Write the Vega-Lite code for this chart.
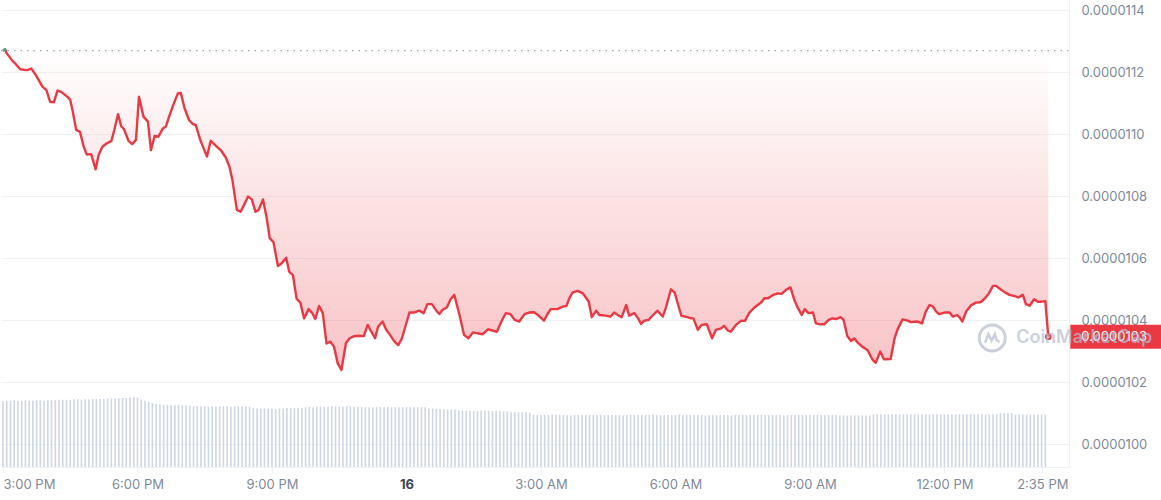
{
  "$schema": "https://vega.github.io/schema/vega-lite/v6.json",
  "width": 1068,
  "height": 467,
  "padding": 0,
  "background": "white",
  "config": {"view": {"stroke": null}, "font": "Inter"},
  "datasets": {
    "price": [
      {"t":"2024-05-15T15:00","p":0.00001127},{"t":"2024-05-15T15:03","p":0.000011274},{"t":"2024-05-15T15:05","p":0.000011261},{"t":"2024-05-15T15:13","p":0.000011236},{"t":"2024-05-15T15:17","p":0.000011227},{"t":"2024-05-15T15:23","p":0.00001121},{"t":"2024-05-15T15:32","p":0.000011207},{"t":"2024-05-15T15:38","p":0.000011212},{"t":"2024-05-15T15:44","p":0.000011191},{"t":"2024-05-15T15:53","p":0.000011153},{"t":"2024-05-15T15:58","p":0.000011143},
      {"t":"2024-05-15T16:03","p":0.000011105},{"t":"2024-05-15T16:08","p":0.000011103},{"t":"2024-05-15T16:13","p":0.000011141},{"t":"2024-05-15T16:18","p":0.000011137},{"t":"2024-05-15T16:27","p":0.000011119},{"t":"2024-05-15T16:30","p":0.000011111},{"t":"2024-05-15T16:33","p":0.000011078},{"t":"2024-05-15T16:38","p":0.000011014},{"t":"2024-05-15T16:43","p":0.000011008},{"t":"2024-05-15T16:48","p":0.00001096},{"t":"2024-05-15T16:52","p":0.000010935},{"t":"2024-05-15T16:58","p":0.000010936},
      {"t":"2024-05-15T17:04","p":0.000010887},{"t":"2024-05-15T17:08","p":0.000010933},{"t":"2024-05-15T17:13","p":0.00001096},{"t":"2024-05-15T17:19","p":0.000010971},{"t":"2024-05-15T17:25","p":0.000010978},{"t":"2024-05-15T17:29","p":0.000011014},{"t":"2024-05-15T17:34","p":0.000011065},{"t":"2024-05-15T17:38","p":0.000011027},{"t":"2024-05-15T17:42","p":0.000011016},{"t":"2024-05-15T17:48","p":0.000010979},{"t":"2024-05-15T17:53","p":0.000010968},{"t":"2024-05-15T17:58","p":0.000010982},
      {"t":"2024-05-15T18:02","p":0.000011121},{"t":"2024-05-15T18:08","p":0.000011057},{"t":"2024-05-15T18:14","p":0.000011041},{"t":"2024-05-15T18:18","p":0.000010949},{"t":"2024-05-15T18:23","p":0.000010995},{"t":"2024-05-15T18:28","p":0.000010992},{"t":"2024-05-15T18:34","p":0.000011019},{"t":"2024-05-15T18:38","p":0.000011025},{"t":"2024-05-15T18:43","p":0.000011062},{"t":"2024-05-15T18:48","p":0.000011095},{"t":"2024-05-15T18:54","p":0.000011132},{"t":"2024-05-15T18:58","p":0.000011133},
      {"t":"2024-05-15T19:03","p":0.000011084},{"t":"2024-05-15T19:09","p":0.000011046},{"t":"2024-05-15T19:14","p":0.000011033},{"t":"2024-05-15T19:18","p":0.00001103},{"t":"2024-05-15T19:24","p":0.000010982},{"t":"2024-05-15T19:33","p":0.000010928},{"t":"2024-05-15T19:38","p":0.000010979},{"t":"2024-05-15T19:45","p":0.000010963},{"t":"2024-05-15T19:52","p":0.000010947},{"t":"2024-05-15T19:58","p":0.000010926},
      {"t":"2024-05-15T20:03","p":0.000010896},{"t":"2024-05-15T20:07","p":0.000010853},{"t":"2024-05-15T20:13","p":0.000010756},{"t":"2024-05-15T20:18","p":0.00001075},{"t":"2024-05-15T20:23","p":0.000010774},{"t":"2024-05-15T20:28","p":0.000010799},{"t":"2024-05-15T20:33","p":0.00001079},{"t":"2024-05-15T20:38","p":0.00001075},{"t":"2024-05-15T20:42","p":0.000010756},{"t":"2024-05-15T20:48","p":0.00001079},{"t":"2024-05-15T20:53","p":0.000010729},{"t":"2024-05-15T20:57","p":0.000010665},
      {"t":"2024-05-15T21:02","p":0.000010652},{"t":"2024-05-15T21:08","p":0.000010575},{"t":"2024-05-15T21:13","p":0.000010584},{"t":"2024-05-15T21:19","p":0.000010602},{"t":"2024-05-15T21:23","p":0.000010557},{"t":"2024-05-15T21:28","p":0.000010546},{"t":"2024-05-15T21:33","p":0.000010469},{"t":"2024-05-15T21:38","p":0.000010457},{"t":"2024-05-15T21:43","p":0.000010406},{"t":"2024-05-15T21:49","p":0.000010436},{"t":"2024-05-15T21:54","p":0.000010423},{"t":"2024-05-15T21:58","p":0.000010404},
      {"t":"2024-05-15T22:03","p":0.000010446},{"t":"2024-05-15T22:08","p":0.000010423},{"t":"2024-05-15T22:13","p":0.000010325},{"t":"2024-05-15T22:18","p":0.000010331},{"t":"2024-05-15T22:23","p":0.000010315},{"t":"2024-05-15T22:28","p":0.000010261},{"t":"2024-05-15T22:33","p":0.00001024},{"t":"2024-05-15T22:39","p":0.000010327},{"t":"2024-05-15T22:44","p":0.000010342},{"t":"2024-05-15T22:50","p":0.000010349},{"t":"2024-05-15T22:57","p":0.00001035},
      {"t":"2024-05-15T23:03","p":0.000010349},{"t":"2024-05-15T23:08","p":0.000010385},{"t":"2024-05-15T23:13","p":0.000010363},{"t":"2024-05-15T23:18","p":0.000010342},{"t":"2024-05-15T23:22","p":0.000010379},{"t":"2024-05-15T23:28","p":0.000010396},{"t":"2024-05-15T23:33","p":0.000010369},{"t":"2024-05-15T23:38","p":0.000010353},{"t":"2024-05-15T23:44","p":0.000010331},{"t":"2024-05-15T23:49","p":0.00001032},{"t":"2024-05-15T23:54","p":0.000010342},
      {"t":"2024-05-16T00:04","p":0.000010425},{"t":"2024-05-16T00:10","p":0.000010425},{"t":"2024-05-16T00:17","p":0.000010431},{"t":"2024-05-16T00:23","p":0.000010423},{"t":"2024-05-16T00:28","p":0.000010452},{"t":"2024-05-16T00:34","p":0.000010452},{"t":"2024-05-16T00:40","p":0.000010431},{"t":"2024-05-16T00:44","p":0.00001042},{"t":"2024-05-16T00:48","p":0.000010433},{"t":"2024-05-16T00:54","p":0.000010441},{"t":"2024-05-16T00:59","p":0.000010468},
      {"t":"2024-05-16T01:04","p":0.000010482},{"t":"2024-05-16T01:11","p":0.000010417},{"t":"2024-05-16T01:17","p":0.000010353},{"t":"2024-05-16T01:23","p":0.000010342},{"t":"2024-05-16T01:29","p":0.000010361},{"t":"2024-05-16T01:35","p":0.000010358},{"t":"2024-05-16T01:42","p":0.000010355},{"t":"2024-05-16T01:49","p":0.000010371},{"t":"2024-05-16T01:55","p":0.000010367},
      {"t":"2024-05-16T02:01","p":0.000010363},{"t":"2024-05-16T02:07","p":0.000010396},{"t":"2024-05-16T02:13","p":0.000010423},{"t":"2024-05-16T02:19","p":0.00001042},{"t":"2024-05-16T02:25","p":0.000010401},{"t":"2024-05-16T02:31","p":0.000010396},{"t":"2024-05-16T02:38","p":0.00001042},{"t":"2024-05-16T02:44","p":0.000010425},{"t":"2024-05-16T02:51","p":0.000010426},{"t":"2024-05-16T02:56","p":0.000010417},
      {"t":"2024-05-16T03:04","p":0.000010399},{"t":"2024-05-16T03:08","p":0.000010417},{"t":"2024-05-16T03:13","p":0.000010436},{"t":"2024-05-16T03:22","p":0.000010436},{"t":"2024-05-16T03:29","p":0.000010444},{"t":"2024-05-16T03:34","p":0.000010446},{"t":"2024-05-16T03:38","p":0.000010471},{"t":"2024-05-16T03:42","p":0.000010489},{"t":"2024-05-16T03:49","p":0.000010495},{"t":"2024-05-16T03:56","p":0.000010487},
      {"t":"2024-05-16T04:04","p":0.00001046},{"t":"2024-05-16T04:08","p":0.00001041},{"t":"2024-05-16T04:14","p":0.000010431},{"t":"2024-05-16T04:18","p":0.000010417},{"t":"2024-05-16T04:27","p":0.000010415},{"t":"2024-05-16T04:33","p":0.000010412},{"t":"2024-05-16T04:38","p":0.000010425},{"t":"2024-05-16T04:44","p":0.000010415},{"t":"2024-05-16T04:48","p":0.00001041},{"t":"2024-05-16T04:54","p":0.000010449},{"t":"2024-05-16T04:58","p":0.000010415},
      {"t":"2024-05-16T05:05","p":0.000010423},{"t":"2024-05-16T05:10","p":0.000010406},{"t":"2024-05-16T05:14","p":0.000010388},{"t":"2024-05-16T05:18","p":0.000010399},{"t":"2024-05-16T05:24","p":0.000010401},{"t":"2024-05-16T05:30","p":0.000010417},{"t":"2024-05-16T05:36","p":0.000010431},{"t":"2024-05-16T05:43","p":0.000010412},{"t":"2024-05-16T05:47","p":0.000010439},{"t":"2024-05-16T05:54","p":0.0000105},{"t":"2024-05-16T05:59","p":0.000010489},
      {"t":"2024-05-16T06:03","p":0.000010455},{"t":"2024-05-16T06:08","p":0.000010414},{"t":"2024-05-16T06:16","p":0.00001041},{"t":"2024-05-16T06:21","p":0.000010406},{"t":"2024-05-16T06:24","p":0.000010406},{"t":"2024-05-16T06:30","p":0.000010369},{"t":"2024-05-16T06:35","p":0.000010385},{"t":"2024-05-16T06:42","p":0.000010387},{"t":"2024-05-16T06:49","p":0.000010342},{"t":"2024-05-16T06:54","p":0.000010369},
      {"t":"2024-05-16T07:01","p":0.000010374},{"t":"2024-05-16T07:05","p":0.000010382},{"t":"2024-05-16T07:10","p":0.000010367},{"t":"2024-05-16T07:14","p":0.000010363},{"t":"2024-05-16T07:21","p":0.000010385},{"t":"2024-05-16T07:28","p":0.000010399},{"t":"2024-05-16T07:33","p":0.000010398},{"t":"2024-05-16T07:39","p":0.000010425},{"t":"2024-05-16T07:46","p":0.000010442},{"t":"2024-05-16T07:55","p":0.000010458},{"t":"2024-05-16T07:59","p":0.000010471},
      {"t":"2024-05-16T08:04","p":0.000010471},{"t":"2024-05-16T08:10","p":0.000010481},{"t":"2024-05-16T08:17","p":0.000010487},{"t":"2024-05-16T08:22","p":0.000010485},{"t":"2024-05-16T08:28","p":0.000010498},{"t":"2024-05-16T08:34","p":0.000010506},{"t":"2024-05-16T08:39","p":0.000010466},{"t":"2024-05-16T08:44","p":0.000010439},{"t":"2024-05-16T08:49","p":0.000010417},{"t":"2024-05-16T08:53","p":0.000010436},{"t":"2024-05-16T08:58","p":0.000010423},
      {"t":"2024-05-16T09:04","p":0.000010425},{"t":"2024-05-16T09:08","p":0.00001039},{"t":"2024-05-16T09:14","p":0.000010387},{"t":"2024-05-16T09:19","p":0.000010387},{"t":"2024-05-16T09:25","p":0.000010401},{"t":"2024-05-16T09:30","p":0.000010406},{"t":"2024-05-16T09:35","p":0.000010404},{"t":"2024-05-16T09:41","p":0.00001041},{"t":"2024-05-16T09:45","p":0.000010401},{"t":"2024-05-16T09:50","p":0.000010349},{"t":"2024-05-16T09:55","p":0.000010333},{"t":"2024-05-16T09:59","p":0.000010342},
      {"t":"2024-05-16T10:04","p":0.000010328},{"t":"2024-05-16T10:11","p":0.000010313},{"t":"2024-05-16T10:17","p":0.000010304},{"t":"2024-05-16T10:24","p":0.000010272},{"t":"2024-05-16T10:28","p":0.000010263},{"t":"2024-05-16T10:34","p":0.000010299},{"t":"2024-05-16T10:39","p":0.000010274},{"t":"2024-05-16T10:48","p":0.000010275},{"t":"2024-05-16T10:53","p":0.000010339},{"t":"2024-05-16T10:57","p":0.000010369},
      {"t":"2024-05-16T11:04","p":0.000010403},{"t":"2024-05-16T11:11","p":0.000010399},{"t":"2024-05-16T11:15","p":0.000010394},{"t":"2024-05-16T11:24","p":0.000010396},{"t":"2024-05-16T11:30","p":0.00001039},{"t":"2024-05-16T11:35","p":0.000010428},{"t":"2024-05-16T11:40","p":0.000010449},{"t":"2024-05-16T11:44","p":0.000010446},{"t":"2024-05-16T11:49","p":0.000010428},{"t":"2024-05-16T11:53","p":0.00001042},
      {"t":"2024-05-16T12:00","p":0.000010425},{"t":"2024-05-16T12:07","p":0.000010425},{"t":"2024-05-16T12:11","p":0.000010412},{"t":"2024-05-16T12:17","p":0.000010417},{"t":"2024-05-16T12:20","p":0.00001041},{"t":"2024-05-16T12:24","p":0.000010396},{"t":"2024-05-16T12:29","p":0.000010428},{"t":"2024-05-16T12:36","p":0.000010449},{"t":"2024-05-16T12:42","p":0.000010457},{"t":"2024-05-16T12:48","p":0.000010458},{"t":"2024-05-16T12:53","p":0.000010468},{"t":"2024-05-16T12:59","p":0.000010485},
      {"t":"2024-05-16T13:05","p":0.000010511},{"t":"2024-05-16T13:09","p":0.000010511},{"t":"2024-05-16T13:15","p":0.0000105},{"t":"2024-05-16T13:21","p":0.00001049},{"t":"2024-05-16T13:27","p":0.000010482},{"t":"2024-05-16T13:34","p":0.000010478},{"t":"2024-05-16T13:39","p":0.000010474},{"t":"2024-05-16T13:45","p":0.000010482},{"t":"2024-05-16T13:49","p":0.000010452},{"t":"2024-05-16T13:54","p":0.000010447},
      {"t":"2024-05-16T14:00","p":0.000010468},{"t":"2024-05-16T14:05","p":0.00001046},{"t":"2024-05-16T14:10","p":0.00001046},{"t":"2024-05-16T14:15","p":0.000010462},{"t":"2024-05-16T14:19","p":0.000010347}
    ],
    "vol": [
      {"t":"2024-05-15T15:00","v":1.43},{"t":"2024-05-15T15:05","v":1.44},{"t":"2024-05-15T15:10","v":1.44},{"t":"2024-05-15T15:15","v":1.45},{"t":"2024-05-15T15:20","v":1.44},{"t":"2024-05-15T15:25","v":1.44},{"t":"2024-05-15T15:30","v":1.45},{"t":"2024-05-15T15:35","v":1.44},{"t":"2024-05-15T15:40","v":1.44},{"t":"2024-05-15T15:45","v":1.45},{"t":"2024-05-15T15:50","v":1.45},{"t":"2024-05-15T15:55","v":1.44},
      {"t":"2024-05-15T16:00","v":1.45},{"t":"2024-05-15T16:05","v":1.45},{"t":"2024-05-15T16:10","v":1.45},{"t":"2024-05-15T16:15","v":1.46},{"t":"2024-05-15T16:20","v":1.46},{"t":"2024-05-15T16:25","v":1.46},{"t":"2024-05-15T16:30","v":1.46},{"t":"2024-05-15T16:35","v":1.47},{"t":"2024-05-15T16:40","v":1.47},{"t":"2024-05-15T16:45","v":1.46},{"t":"2024-05-15T16:50","v":1.47},{"t":"2024-05-15T16:55","v":1.47},
      {"t":"2024-05-15T17:00","v":1.48},{"t":"2024-05-15T17:05","v":1.48},{"t":"2024-05-15T17:10","v":1.48},{"t":"2024-05-15T17:15","v":1.48},{"t":"2024-05-15T17:20","v":1.49},{"t":"2024-05-15T17:25","v":1.49},{"t":"2024-05-15T17:30","v":1.49},{"t":"2024-05-15T17:35","v":1.49},{"t":"2024-05-15T17:40","v":1.5},{"t":"2024-05-15T17:45","v":1.5},{"t":"2024-05-15T17:50","v":1.51},{"t":"2024-05-15T17:55","v":1.52},
      {"t":"2024-05-15T18:00","v":1.51},{"t":"2024-05-15T18:05","v":1.47},{"t":"2024-05-15T18:10","v":1.44},{"t":"2024-05-15T18:15","v":1.41},{"t":"2024-05-15T18:20","v":1.39},{"t":"2024-05-15T18:25","v":1.37},{"t":"2024-05-15T18:30","v":1.36},{"t":"2024-05-15T18:35","v":1.35},{"t":"2024-05-15T18:40","v":1.35},{"t":"2024-05-15T18:45","v":1.35},{"t":"2024-05-15T18:50","v":1.34},{"t":"2024-05-15T18:55","v":1.35},
      {"t":"2024-05-15T19:00","v":1.34},{"t":"2024-05-15T19:05","v":1.34},{"t":"2024-05-15T19:10","v":1.33},{"t":"2024-05-15T19:15","v":1.32},{"t":"2024-05-15T19:20","v":1.32},{"t":"2024-05-15T19:25","v":1.32},{"t":"2024-05-15T19:30","v":1.32},{"t":"2024-05-15T19:35","v":1.31},{"t":"2024-05-15T19:40","v":1.32},{"t":"2024-05-15T19:45","v":1.32},{"t":"2024-05-15T19:50","v":1.32},{"t":"2024-05-15T19:55","v":1.32},
      {"t":"2024-05-15T20:00","v":1.32},{"t":"2024-05-15T20:05","v":1.31},{"t":"2024-05-15T20:10","v":1.32},{"t":"2024-05-15T20:15","v":1.32},{"t":"2024-05-15T20:20","v":1.32},{"t":"2024-05-15T20:25","v":1.32},{"t":"2024-05-15T20:30","v":1.31},{"t":"2024-05-15T20:35","v":1.28},{"t":"2024-05-15T20:40","v":1.27},{"t":"2024-05-15T20:45","v":1.27},{"t":"2024-05-15T20:50","v":1.27},{"t":"2024-05-15T20:55","v":1.27},
      {"t":"2024-05-15T21:00","v":1.27},{"t":"2024-05-15T21:05","v":1.26},{"t":"2024-05-15T21:10","v":1.27},{"t":"2024-05-15T21:15","v":1.27},{"t":"2024-05-15T21:20","v":1.28},{"t":"2024-05-15T21:25","v":1.28},{"t":"2024-05-15T21:30","v":1.28},{"t":"2024-05-15T21:35","v":1.28},{"t":"2024-05-15T21:40","v":1.29},{"t":"2024-05-15T21:45","v":1.3},{"t":"2024-05-15T21:50","v":1.31},{"t":"2024-05-15T21:55","v":1.3},
      {"t":"2024-05-15T22:00","v":1.31},{"t":"2024-05-15T22:05","v":1.31},{"t":"2024-05-15T22:10","v":1.31},{"t":"2024-05-15T22:15","v":1.31},{"t":"2024-05-15T22:20","v":1.32},{"t":"2024-05-15T22:25","v":1.32},{"t":"2024-05-15T22:30","v":1.31},{"t":"2024-05-15T22:35","v":1.31},{"t":"2024-05-15T22:40","v":1.32},{"t":"2024-05-15T22:45","v":1.32},{"t":"2024-05-15T22:50","v":1.31},{"t":"2024-05-15T22:55","v":1.31},
      {"t":"2024-05-15T23:00","v":1.3},{"t":"2024-05-15T23:05","v":1.3},{"t":"2024-05-15T23:10","v":1.3},{"t":"2024-05-15T23:15","v":1.3},{"t":"2024-05-15T23:20","v":1.3},{"t":"2024-05-15T23:25","v":1.3},{"t":"2024-05-15T23:30","v":1.3},{"t":"2024-05-15T23:35","v":1.3},{"t":"2024-05-15T23:40","v":1.3},{"t":"2024-05-15T23:45","v":1.3},{"t":"2024-05-15T23:50","v":1.3},{"t":"2024-05-15T23:55","v":1.3},
      {"t":"2024-05-16T00:00","v":1.3},{"t":"2024-05-16T00:05","v":1.3},{"t":"2024-05-16T00:10","v":1.3},{"t":"2024-05-16T00:15","v":1.3},{"t":"2024-05-16T00:20","v":1.3},{"t":"2024-05-16T00:25","v":1.3},{"t":"2024-05-16T00:30","v":1.27},{"t":"2024-05-16T00:35","v":1.27},{"t":"2024-05-16T00:40","v":1.26},{"t":"2024-05-16T00:45","v":1.26},{"t":"2024-05-16T00:50","v":1.26},{"t":"2024-05-16T00:55","v":1.25},
      {"t":"2024-05-16T01:00","v":1.25},{"t":"2024-05-16T01:05","v":1.25},{"t":"2024-05-16T01:10","v":1.23},{"t":"2024-05-16T01:15","v":1.22},{"t":"2024-05-16T01:20","v":1.22},{"t":"2024-05-16T01:25","v":1.22},{"t":"2024-05-16T01:30","v":1.22},{"t":"2024-05-16T01:35","v":1.22},{"t":"2024-05-16T01:40","v":1.22},{"t":"2024-05-16T01:45","v":1.22},{"t":"2024-05-16T01:50","v":1.22},{"t":"2024-05-16T01:55","v":1.22},
      {"t":"2024-05-16T02:00","v":1.22},{"t":"2024-05-16T02:05","v":1.22},{"t":"2024-05-16T02:10","v":1.21},{"t":"2024-05-16T02:15","v":1.21},{"t":"2024-05-16T02:20","v":1.19},{"t":"2024-05-16T02:25","v":1.19},{"t":"2024-05-16T02:30","v":1.19},{"t":"2024-05-16T02:35","v":1.19},{"t":"2024-05-16T02:40","v":1.19},{"t":"2024-05-16T02:45","v":1.18},{"t":"2024-05-16T02:50","v":1.13},{"t":"2024-05-16T02:55","v":1.13},
      {"t":"2024-05-16T03:00","v":1.13},{"t":"2024-05-16T03:05","v":1.13},{"t":"2024-05-16T03:10","v":1.13},{"t":"2024-05-16T03:15","v":1.14},{"t":"2024-05-16T03:20","v":1.13},{"t":"2024-05-16T03:25","v":1.13},{"t":"2024-05-16T03:30","v":1.13},{"t":"2024-05-16T03:35","v":1.13},{"t":"2024-05-16T03:40","v":1.12},{"t":"2024-05-16T03:45","v":1.13},{"t":"2024-05-16T03:50","v":1.13},{"t":"2024-05-16T03:55","v":1.13},
      {"t":"2024-05-16T04:00","v":1.13},{"t":"2024-05-16T04:05","v":1.13},{"t":"2024-05-16T04:10","v":1.13},{"t":"2024-05-16T04:15","v":1.13},{"t":"2024-05-16T04:20","v":1.14},{"t":"2024-05-16T04:25","v":1.13},{"t":"2024-05-16T04:30","v":1.13},{"t":"2024-05-16T04:35","v":1.13},{"t":"2024-05-16T04:40","v":1.13},{"t":"2024-05-16T04:45","v":1.13},{"t":"2024-05-16T04:50","v":1.12},{"t":"2024-05-16T04:55","v":1.13},
      {"t":"2024-05-16T05:00","v":1.13},{"t":"2024-05-16T05:05","v":1.13},{"t":"2024-05-16T05:10","v":1.13},{"t":"2024-05-16T05:15","v":1.13},{"t":"2024-05-16T05:20","v":1.13},{"t":"2024-05-16T05:25","v":1.13},{"t":"2024-05-16T05:30","v":1.14},{"t":"2024-05-16T05:35","v":1.13},{"t":"2024-05-16T05:40","v":1.13},{"t":"2024-05-16T05:45","v":1.13},{"t":"2024-05-16T05:50","v":1.13},{"t":"2024-05-16T05:55","v":1.13},
      {"t":"2024-05-16T06:00","v":1.13},{"t":"2024-05-16T06:05","v":1.14},{"t":"2024-05-16T06:10","v":1.13},{"t":"2024-05-16T06:15","v":1.13},{"t":"2024-05-16T06:20","v":1.13},{"t":"2024-05-16T06:25","v":1.13},{"t":"2024-05-16T06:30","v":1.13},{"t":"2024-05-16T06:35","v":1.13},{"t":"2024-05-16T06:40","v":1.12},{"t":"2024-05-16T06:45","v":1.13},{"t":"2024-05-16T06:50","v":1.13},{"t":"2024-05-16T06:55","v":1.13},
      {"t":"2024-05-16T07:00","v":1.13},{"t":"2024-05-16T07:05","v":1.13},{"t":"2024-05-16T07:10","v":1.13},{"t":"2024-05-16T07:15","v":1.12},{"t":"2024-05-16T07:20","v":1.13},{"t":"2024-05-16T07:25","v":1.13},{"t":"2024-05-16T07:30","v":1.13},{"t":"2024-05-16T07:35","v":1.13},{"t":"2024-05-16T07:40","v":1.13},{"t":"2024-05-16T07:45","v":1.13},{"t":"2024-05-16T07:50","v":1.13},{"t":"2024-05-16T07:55","v":1.13},
      {"t":"2024-05-16T08:00","v":1.13},{"t":"2024-05-16T08:05","v":1.13},{"t":"2024-05-16T08:10","v":1.13},{"t":"2024-05-16T08:15","v":1.13},{"t":"2024-05-16T08:20","v":1.13},{"t":"2024-05-16T08:25","v":1.12},{"t":"2024-05-16T08:30","v":1.13},{"t":"2024-05-16T08:35","v":1.13},{"t":"2024-05-16T08:40","v":1.13},{"t":"2024-05-16T08:45","v":1.13},{"t":"2024-05-16T08:50","v":1.13},{"t":"2024-05-16T08:55","v":1.13},
      {"t":"2024-05-16T09:00","v":1.13},{"t":"2024-05-16T09:05","v":1.13},{"t":"2024-05-16T09:10","v":1.13},{"t":"2024-05-16T09:15","v":1.13},{"t":"2024-05-16T09:20","v":1.13},{"t":"2024-05-16T09:25","v":1.13},{"t":"2024-05-16T09:30","v":1.13},{"t":"2024-05-16T09:35","v":1.13},{"t":"2024-05-16T09:40","v":1.12},{"t":"2024-05-16T09:45","v":1.12},{"t":"2024-05-16T09:50","v":1.12},{"t":"2024-05-16T09:55","v":1.12},
      {"t":"2024-05-16T10:00","v":1.12},{"t":"2024-05-16T10:05","v":1.12},{"t":"2024-05-16T10:10","v":1.12},{"t":"2024-05-16T10:15","v":1.12},{"t":"2024-05-16T10:20","v":1.12},{"t":"2024-05-16T10:25","v":1.145},{"t":"2024-05-16T10:30","v":1.145},{"t":"2024-05-16T10:35","v":1.145},{"t":"2024-05-16T10:40","v":1.145},{"t":"2024-05-16T10:45","v":1.145},{"t":"2024-05-16T10:50","v":1.145},{"t":"2024-05-16T10:55","v":1.145},
      {"t":"2024-05-16T11:00","v":1.145},{"t":"2024-05-16T11:05","v":1.145},{"t":"2024-05-16T11:10","v":1.145},{"t":"2024-05-16T11:15","v":1.145},{"t":"2024-05-16T11:20","v":1.145},{"t":"2024-05-16T11:25","v":1.145},{"t":"2024-05-16T11:30","v":1.145},{"t":"2024-05-16T11:35","v":1.145},{"t":"2024-05-16T11:40","v":1.145},{"t":"2024-05-16T11:45","v":1.145},{"t":"2024-05-16T11:50","v":1.145},{"t":"2024-05-16T11:55","v":1.145},
      {"t":"2024-05-16T12:00","v":1.145},{"t":"2024-05-16T12:05","v":1.145},{"t":"2024-05-16T12:10","v":1.145},{"t":"2024-05-16T12:15","v":1.145},{"t":"2024-05-16T12:20","v":1.145},{"t":"2024-05-16T12:25","v":1.145},{"t":"2024-05-16T12:30","v":1.145},{"t":"2024-05-16T12:35","v":1.145},{"t":"2024-05-16T12:40","v":1.145},{"t":"2024-05-16T12:45","v":1.145},{"t":"2024-05-16T12:50","v":1.145},{"t":"2024-05-16T12:55","v":1.145},
      {"t":"2024-05-16T13:00","v":1.145},{"t":"2024-05-16T13:05","v":1.145},{"t":"2024-05-16T13:10","v":1.145},{"t":"2024-05-16T13:15","v":1.17},{"t":"2024-05-16T13:20","v":1.17},{"t":"2024-05-16T13:25","v":1.17},{"t":"2024-05-16T13:30","v":1.17},{"t":"2024-05-16T13:35","v":1.14},{"t":"2024-05-16T13:40","v":1.14},{"t":"2024-05-16T13:45","v":1.14},{"t":"2024-05-16T13:50","v":1.14},{"t":"2024-05-16T13:55","v":1.14},
      {"t":"2024-05-16T14:00","v":1.14},{"t":"2024-05-16T14:05","v":1.14},{"t":"2024-05-16T14:10","v":1.14},{"t":"2024-05-16T14:15","v":1.14}
    ]
  },
  "encoding": {
    "x": {
      "field": "t",
      "type": "temporal",
      "scale": {
        "domain": [
          {"year": 2024, "month": 5, "date": 15, "hours": 14, "minutes": 57, "seconds": 20},
          {"year": 2024, "month": 5, "date": 16, "hours": 14, "minutes": 46, "seconds": 42}
        ],
        "padding": 0,
        "nice": false
      },
      "axis": {
        "title": null,
        "values": [
          {"year": 2024, "month": 5, "date": 15, "hours": 15},
          {"year": 2024, "month": 5, "date": 15, "hours": 18},
          {"year": 2024, "month": 5, "date": 15, "hours": 21},
          {"year": 2024, "month": 5, "date": 16, "hours": 0},
          {"year": 2024, "month": 5, "date": 16, "hours": 3},
          {"year": 2024, "month": 5, "date": 16, "hours": 6},
          {"year": 2024, "month": 5, "date": 16, "hours": 9},
          {"year": 2024, "month": 5, "date": 16, "hours": 12},
          {"year": 2024, "month": 5, "date": 16, "hours": 14, "minutes": 11}
        ],
        "labelExpr": "minutes(datum.value) == 11 ? '2:35 PM' : (hours(datum.value) == 0 ? '16' : timeFormat(datum.value, '%-I:%M %p'))",
        "labelFont": "Inter",
        "labelFontSize": 13,
        "labelColor": {"condition": {"test": "hours(datum.value) == 0", "value": "#3D4454"}, "value": "#808A9D"},
        "labelFontWeight": {"condition": {"test": "hours(datum.value) == 0", "value": "bold"}, "value": "normal"},
        "labelAlign": {"condition": {"test": "hours(datum.value) == 15", "value": "left"}, "value": "center"},
        "labelPadding": 5,
        "labelOverlap": false,
        "labelFlush": false,
        "ticks": true,
        "tickColor": "#EFF2F5",
        "tickSize": 6,
        "domain": true,
        "domainColor": "#EFF2F5",
        "grid": false
      }
    }
  },
  "layer": [
    {
      "data": {"name": "vol"},
      "mark": {"type": "bar", "width": 1.6, "color": "#CFD6E4"},
      "encoding": {
        "y": {"field": "v", "type": "quantitative", "scale": {"domain": [0, 10.15]}, "axis": null}
      }
    },
    {
      "data": {"name": "price"},
      "encoding": {
        "y": {
          "field": "p",
          "type": "quantitative",
          "scale": {"domain": [0.0000099267, 0.0000114332], "nice": false, "zero": false},
          "axis": {
            "orient": "right",
            "title": null,
            "values": [0.00001, 0.0000102, 0.0000104, 0.0000106, 0.0000108, 0.000011, 0.0000112, 0.0000114],
            "format": ".7f",
            "ticks": false,
            "domain": true,
            "domainColor": "#EFF2F5",
            "grid": true,
            "gridColor": "#EFF2F5",
            "labelColor": "#808A9D",
            "labelFont": "Inter",
            "labelFontSize": 13,
            "labelPadding": 12,
            "labelOverlap": false
          }
        }
      },
      "layer": [
        {
          "mark": {
            "type": "area",
            "fill": {
              "gradient": "linear", "x1": 0, "y1": 0, "x2": 0, "y2": 1,
              "stops": [
                {"offset": 0, "color": "rgba(234,57,67,0.0)"},
                {"offset": 1, "color": "rgba(234,57,67,0.3)"}
              ]
            }
          },
          "encoding": {"y2": {"datum": 0.00001127}}
        },
        {
          "data": {"values": [{"t": "2024-05-15T14:57:20", "t2": "2024-05-16T14:46:42", "p": 0.00001127}]},
          "mark": {"type": "rule", "strokeDash": [1.5, 5], "color": "#9DA5B4", "strokeWidth": 1.2},
          "encoding": {
            "x2": {"field": "t2"}
          }
        },
        {
          "mark": {"type": "line", "color": "#EA3943", "strokeWidth": 2.4, "strokeJoin": "round"}
        },
        {
          "transform": [{"filter": "datum.p >= 0.000011265"}],
          "mark": {"type": "line", "color": "#16C784", "strokeWidth": 2.4, "strokeJoin": "round"}
        },
        {
          "transform": [
            {"window": [{"op": "row_number", "as": "rn"}], "sort": [{"field": "t", "order": "descending"}]},
            {"filter": "datum.rn == 1"}
          ],
          "layer": [
            {"mark": {"type": "point", "filled": false, "color": "#EA3943", "strokeWidth": 2, "size": 22, "opacity": 1}},
            {
              "mark": {"type": "rect", "color": "#EA3943", "xOffset": 22, "x2Offset": 114, "yOffset": -12, "y2Offset": 12},
              "encoding": {"x2": {"field": "t"}, "y2": {"field": "p"}}
            },
            {
              "mark": {"type": "text", "color": "white", "align": "left", "baseline": "middle", "dx": 33, "fontSize": 13, "font": "Inter"},
              "encoding": {"text": {"field": "p", "type": "quantitative", "format": ".7f"}}
            }
          ]
        },
        {
          "data": {"values": [{"t": "2024-05-16T13:04", "p": 0.0000103429}]},
          "mark": {"type": "point", "shape": "circle", "filled": false, "stroke": "#B4BED0", "strokeWidth": 3, "size": 676, "opacity": 0.7}
        },
        {
          "data": {"values": [{"t": "2024-05-16T13:04", "p": 0.0000103429}]},
          "mark": {"type": "point", "shape": "M -0.55 0.35 L -0.3 -0.3 L -0.05 0.2 L 0.2 -0.3 L 0.32 0.15 L 0.55 0.3", "filled": false, "stroke": "#B4BED0", "strokeWidth": 2.5, "size": 676, "opacity": 0.7}
        },
        {
          "data": {"values": [{"t": "2024-05-16T13:36", "p": 0.0000103429, "label": "CoinMarketCap"}]},
          "mark": {"type": "text", "align": "left", "baseline": "middle", "fontSize": 18, "fontWeight": 600, "font": "Inter", "color": "#B4BED0", "opacity": 0.7},
          "encoding": {"text": {"field": "label"}}
        }
      ]
    }
  ],
  "resolve": {"scale": {"y": "independent"}}
}
